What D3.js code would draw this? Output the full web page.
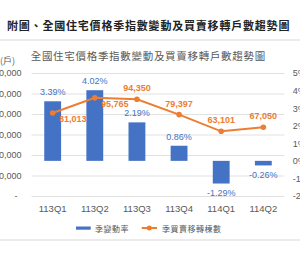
<!DOCTYPE html>
<html>
<head>
<meta charset="utf-8">
<script src="https://cdn.jsdelivr.net/npm/d3@7"></script>
<style>
  body { margin: 0; background: #fff; }
  svg { display: block; font-family: "Liberation Sans", "Noto Sans CJK TC", sans-serif; }
</style>
</head>
<body>
<div class="chartContainer"></div>
<script>
//data
const quarters = ['113Q1', '113Q2', '113Q3', '113Q4', '114Q1', '114Q2'];
const rateChange = [3.39, 4.02, 2.19, 0.86, -1.29, -0.26];      //季變動率 (%)
const transfers = [81013, 95765, 94350, 79397, 63101, 67050];    //季買賣移轉棟數
const leftTicks = [0, 20000, 40000, 60000, 80000, 100000, 120000];
const rightTicks = [-2, -1, 0, 1, 2, 3, 4, 5];

const pageTitle = '附圖、全國住宅價格季指數變動及買賣移轉戶數趨勢圖';
const chartTitle = '全國住宅價格季指數變動及買賣移轉戶數趨勢圖';
const legendNames = ['季變動率', '季買賣移轉棟數'];

const blue = '#4472C4';
const orange = '#ED7D31';
const grey = '#595959';
const gridColor = '#d9d9d9';

const width = 300, height = 270;
const plot = {left: 31.6, right: 284.4, top: 73, bottom: 196};

const svg = d3.select('.chartContainer')
    .append('svg')
    .attr('width', width)
    .attr('height', height);

//page title above the chart box
svg.append('text')
    .attr('x', 7)
    .attr('y', 25)
    .attr('dominant-baseline', 'central')
    .style('font-family', '"Noto Sans CJK TC"')
    .style('font-weight', 'bold')
    .style('font-size', '11px')
    .style('letter-spacing', '0.8px')
    .style('fill', '#222')
    .text(pageTitle);

//chart box border (only top and bottom are visible)
svg.append('rect')
    .attr('x', -5).attr('y', 40)
    .attr('width', width + 10).attr('height', 200)
    .style('fill', 'none')
    .style('stroke', gridColor)
    .style('stroke-width', 1);

svg.append('text')
    .attr('x', 30.7)
    .attr('y', 55)
    .attr('dominant-baseline', 'central')
    .style('font-family', '"Noto Sans CJK TC"')
    .style('font-size', '10.5px')
    .style('letter-spacing', '0.7px')
    .style('fill', grey)
    .text(chartTitle);

//unit label, partly cut off at the left edge
svg.append('text')
    .attr('x', 15)
    .attr('y', 60)
    .attr('text-anchor', 'end')
    .attr('dominant-baseline', 'central')
    .style('font-family', '"Noto Sans CJK TC"')
    .style('font-size', '9px')
    .style('fill', grey)
    .text('(戶)');

//scales
const xScale = d3.scaleBand()
    .domain(quarters)
    .range([plot.left, plot.right])
    .paddingInner(0.6)
    .paddingOuter(0.3);

const yLeft = d3.scaleLinear()
    .domain([0, 120000])
    .range([plot.bottom, plot.top]);

const yRight = d3.scaleLinear()
    .domain([-2, 5])
    .range([plot.bottom, plot.top]);

const center = d => xScale(d) + xScale.bandwidth() / 2;

//left axis with gridlines
const yAxisLeft = d3.axisLeft(yLeft)
    .tickValues(leftTicks)
    .tickFormat(d => d === 0 ? '-' : d3.format(',')(d))
    .tickSizeInner(-(plot.right - plot.left))
    .tickSizeOuter(0)
    .tickPadding(10);

const leftAxisDraw = svg.append('g')
    .attr('transform', `translate(${plot.left}, 0)`)
    .call(yAxisLeft);

leftAxisDraw.select('.domain').remove();
leftAxisDraw.selectAll('.tick line')
    .style('stroke', gridColor)
    .style('stroke-width', 0.8);
leftAxisDraw.selectAll('.tick text')
    .style('font-size', '9px')
    .style('fill', grey);
leftAxisDraw.selectAll('.tick text')
    .filter(d => d === 0)
    .attr('dx', '-4');

//right axis, labels only
const yAxisRight = d3.axisRight(yRight)
    .tickValues(rightTicks)
    .tickFormat(d => d + '%')
    .tickSize(0)
    .tickPadding(8.3);

const rightAxisDraw = svg.append('g')
    .attr('transform', `translate(${plot.right}, 0)`)
    .call(yAxisRight);

rightAxisDraw.select('.domain').remove();
rightAxisDraw.selectAll('.tick text')
    .style('font-size', '9px')
    .style('fill', grey);

//x axis labels
const xAxis = d3.axisBottom(xScale)
    .tickSize(0)
    .tickPadding(9);

const xAxisDraw = svg.append('g')
    .attr('transform', `translate(0, ${plot.bottom})`)
    .call(xAxis);

xAxisDraw.select('.domain').remove();
xAxisDraw.selectAll('.tick text')
    .style('font-size', '9.5px')
    .style('fill', grey);

//bars
svg.append('g')
    .selectAll('rect')
    .data(rateChange)
    .enter()
    .append('rect')
    .attr('x', (d, i) => xScale(quarters[i]))
    .attr('y', d => yRight(Math.max(0, d)))
    .attr('width', xScale.bandwidth())
    .attr('height', d => Math.abs(yRight(d) - yRight(0)))
    .style('fill', blue);

svg.append('g')
    .selectAll('text')
    .data(rateChange)
    .enter()
    .append('text')
    .attr('x', (d, i) => center(quarters[i]))
    .attr('y', d => d >= 0 ? yRight(d) - 9 : yRight(d) + 9.5)
    .attr('text-anchor', 'middle')
    .attr('dominant-baseline', 'central')
    .style('font-size', '9px')
    .style('fill', blue)
    .text(d => d.toFixed(2) + '%');

//line
const line = d3.line()
    .x((d, i) => center(quarters[i]))
    .y(d => yLeft(d));

svg.append('path')
    .datum(transfers)
    .attr('d', line)
    .style('fill', 'none')
    .style('stroke', orange)
    .style('stroke-width', 2);

svg.append('g')
    .selectAll('circle')
    .data(transfers)
    .enter()
    .append('circle')
    .attr('cx', (d, i) => center(quarters[i]))
    .attr('cy', d => yLeft(d))
    .attr('r', 2.8)
    .style('fill', orange);

//first two labels sit right of the point, the rest above it
svg.append('g')
    .selectAll('text')
    .data(transfers)
    .enter()
    .append('text')
    .attr('x', (d, i) => center(quarters[i]) + (i < 2 ? 20 : 0))
    .attr('y', (d, i) => yLeft(d) + (i < 2 ? 6.5 : -11))
    .attr('text-anchor', 'middle')
    .attr('dominant-baseline', 'central')
    .style('font-size', '9px')
    .style('font-weight', 'bold')
    .style('fill', orange)
    .text(d => d3.format(',')(d));

//legend
const legend = svg.append('g')
    .attr('transform', 'translate(0, 228)');

legend.append('rect')
    .attr('x', 76).attr('y', -1.5)
    .attr('width', 14.7).attr('height', 3.2)
    .style('fill', blue);

legend.append('text')
    .attr('x', 95)
    .attr('dominant-baseline', 'central')
    .style('font-family', '"Noto Sans CJK TC"')
    .style('font-size', '8px')
    .style('letter-spacing', '0.5px')
    .style('fill', grey)
    .text(legendNames[0]);

legend.append('line')
    .attr('x1', 141.7).attr('x2', 157)
    .style('stroke', orange)
    .style('stroke-width', 2);

legend.append('circle')
    .attr('cx', 149.3)
    .attr('r', 2.5)
    .style('fill', orange);

legend.append('text')
    .attr('x', 162)
    .attr('dominant-baseline', 'central')
    .style('font-family', '"Noto Sans CJK TC"')
    .style('font-size', '8px')
    .style('letter-spacing', '0.5px')
    .style('fill', grey)
    .text(legendNames[1]);
</script>
</body>
</html>
